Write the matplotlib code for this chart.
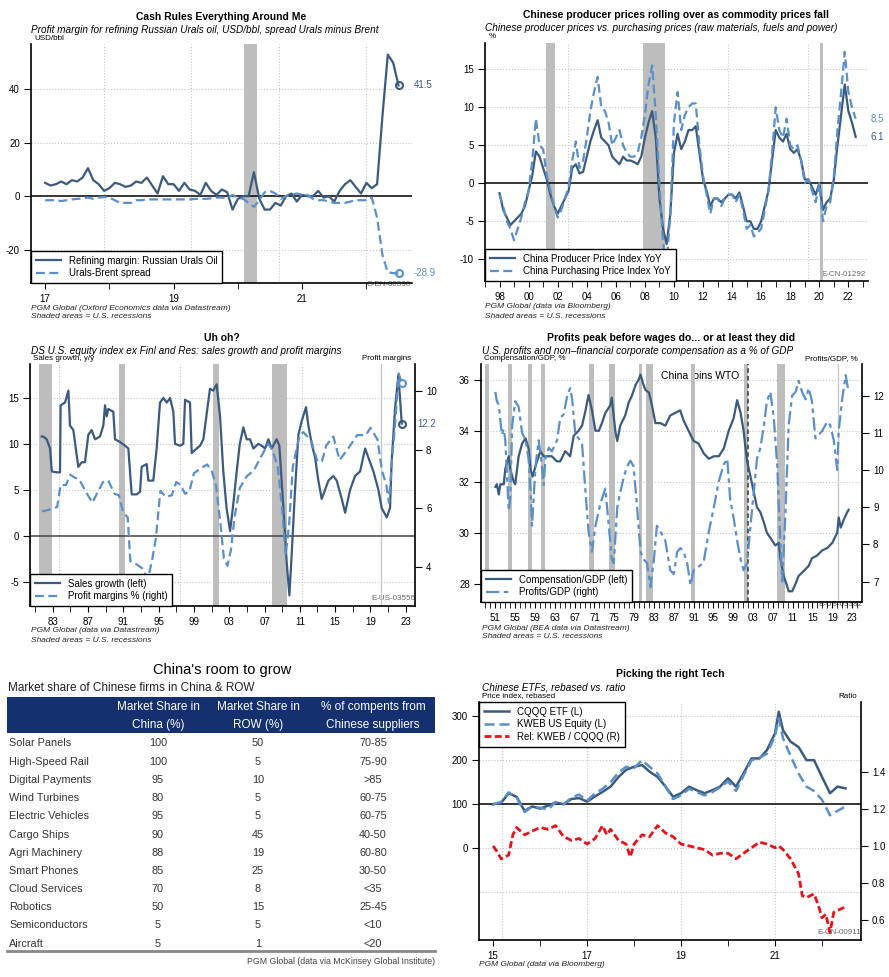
import numpy as np
import matplotlib
matplotlib.use('Agg')
import matplotlib.pyplot as plt
from matplotlib.patches import Rectangle

plt.rcParams['font.family'] = ['Liberation Sans', 'DejaVu Sans']
plt.rcParams['axes.unicode_minus'] = False

W, H = 889, 977
DARK = '#3b5a7d'
LIGHT = '#5b8fc7'
RED = '#e3121b'
SHADE = '#bdbdbd'
GRID = '#c4c4c4'
NAVY = '#14306e'

# ---------------- data ----------------
# US recessions (decimal years)
recessions = [(1948.9, 1949.8), (1953.5, 1954.4), (1957.6, 1958.3), (1960.3, 1961.1),
              (1969.9, 1970.9), (1973.9, 1975.2), (1980.0, 1980.5), (1981.5, 1982.9),
              (1990.5, 1991.2), (2001.2, 2001.9), (2007.9, 2009.5)]
covid = (2020.1, 2020.3)

# panel 1: monthly from Jan 2017
urals_start = 2017.0
urals_margin = [5, 4, 4.5, 5.5, 4.5, 6, 5.5, 7, 10.5, 6,
                4.5, 2, 3, 5, 4.5, 3.5, 4, 5.5, 5, 7,
                4, 1, 7.5, 4.5, 4.5, 2, 5, 2.5, 2, 0.5,
                5, 2, 0.5, 2.5, 1.5, -5, -1, 0, 0, 9,
                -1, -5, -5, -2.5, -3.5, 0, 1, -2, 0.5, 0,
                0, 2, -0.5, 0, -2, 2, 4.5, 6, 3.5, 1,
                5, 3, 4.5, 30, 53, 50, 41.5]
urals_spread = [-1.5, -1.5, -1.5, -1.8, -1.5, -1.2, -1.0, -0.8, -0.5, -1.0,
                -0.5, -0.3, -0.5, -1.5, -2.5, -2.5, -2.5, -1.5, -1.5, -1.2,
                -1.2, -1.2, -1.2, -1.2, -1.2, -1.2, -1.2, -1.2, -1.0, -1.0,
                -1.0, -0.8, -0.5, -0.5, -0.8, 0.5, -0.5, -1.0, -2.5, -4.0,
                -1.5, 1.5, 2.0, 1.0, -1.0, 0.0, 0.5, 1.0, 0.5, 0.5,
                -1.0, -1.5, -1.5, -2.0, -2.5, -2.5, -2.5, -2.0, -1.5, -1.5,
                -1.5, -0.5, -8.0, -22.0, -28.5, -28.8, -28.9]

# panel 2: quarterly from 1998Q1
ppi_start = 1998.0
ppi = [-1.3, -3.5, -4.5, -5.5, -5.0, -4.5, -4.0, -3.0,
       -1.0, 1.0, 4.2, 3.5, 2.0, 0.5, -1.5, -3.0,
       -4.0, -3.0, -2.0, -1.0, 2.0, 2.5, 1.3, 1.5,
       3.5, 5.5, 7.0, 8.3, 6.0, 5.5, 5.0, 3.5,
       3.0, 2.5, 3.5, 3.0, 3.0, 2.8, 2.5, 3.5,
       6.0, 8.0, 9.5, 6.0, -2.0, -6.0, -8.0, -4.0,
       4.0, 6.5, 4.5, 5.5, 7.0, 7.0, 7.5, 4.0,
       0.5, -1.0, -3.0, -2.0, -2.0, -2.5, -2.0, -1.5,
       -1.5, -2.0, -1.2, -3.0, -5.0, -5.0, -6.0, -6.0,
       -5.0, -3.0, -1.0, 3.0, 7.0, 6.0, 5.5, 6.5,
       4.5, 4.0, 4.5, 3.0, 0.5, 0.5, -0.5, -1.5,
       0.0, -3.5, -2.5, -2.0, 0.5, 5.0, 9.0, 13.0,
       9.5, 8.0, 6.1]
purchasing = [-1.5, -3.0, -5.0, -6.0, -7.5, -6.0, -4.5, -2.5,
              -1.0, 3.0, 8.5, 5.0, 4.5, 1.0, -1.0, -3.0,
              -4.5, -3.5, -2.0, -0.5, 3.0, 5.5, 2.0, 3.0,
              6.0, 9.5, 12.0, 14.0, 10.0, 9.5, 8.0, 5.0,
              6.0, 7.0, 5.0, 4.0, 3.5, 3.5, 4.0, 6.0,
              9.0, 13.0, 15.5, 9.0, 0.0, -8.0, -10.5, -4.0,
              8.0, 12.0, 7.0, 9.0, 10.0, 10.5, 10.5, 5.0,
              1.0, -1.5, -4.0, -2.0, -2.0, -3.0, -2.0, -1.5,
              -1.5, -2.5, -1.5, -3.5, -6.0, -5.5, -7.0, -6.5,
              -6.0, -3.5, -1.0, 4.0, 10.0, 7.0, 6.0, 8.5,
              5.0, 4.5, 5.0, 3.0, 0.0, 0.5, -1.0, -2.5,
              0.0, -5.0, -3.0, -2.5, 1.0, 7.0, 12.0, 17.3,
              12.0, 10.0, 8.5]

# panel 3
sales_years = [1981.75, 1981.94, 1982.32, 1982.7, 1982.9, 1983.45, 1983.83, 1983.9, 1984.4, 1984.78,
               1984.96, 1985.34, 1985.9, 1986.29, 1986.66, 1987.04, 1987.42, 1987.8, 1988.36, 1988.74,
               1988.93, 1989.12, 1989.3, 1989.87, 1990.06, 1990.63, 1991.2, 1991.57, 1991.76, 1991.95,
               1992.52, 1992.9, 1993.08, 1993.65, 1993.84, 1994.4, 1994.78, 1995.16, 1995.54, 1995.92,
               1996.3, 1996.67, 1996.86, 1997.43, 1997.8, 1998.0, 1998.56, 1998.75, 1999.32, 1999.7,
               2000.07, 2000.82, 2001.2, 2001.58, 2001.96, 2002.33, 2002.7, 2003.1, 2003.47, 2003.85,
               2004.2, 2004.6, 2004.98, 2005.36, 2005.74, 2006.3, 2006.68, 2007.06, 2007.44, 2007.82,
               2008.38, 2008.68, 2009.14, 2009.52, 2009.82, 2010.08, 2010.46, 2010.84, 2011.22, 2011.7,
               2011.97, 2012.35, 2012.73, 2013.1, 2013.48, 2013.86, 2014.24, 2014.8, 2015.18, 2015.75,
               2016.13, 2016.7, 2017.26, 2017.83, 2018.4, 2018.77, 2019.34, 2019.9, 2020.28, 2020.85,
               2021.22, 2021.4, 2021.8, 2022.17, 2022.55]
sales_growth = [10.8, 10.8, 10.5, 9.5, 7.0, 6.9, 6.9, 14.2, 14.5, 15.8,
                12.0, 11.5, 7.5, 8.0, 8.0, 11.0, 11.5, 10.5, 10.8, 12.0,
                14.2, 13.0, 13.8, 13.5, 10.5, 10.2, 9.8, 9.5, 7.0, 4.5,
                4.5, 4.8, 7.5, 7.8, 6.0, 6.0, 9.5, 14.5, 15.0, 14.5,
                15.0, 13.5, 10.0, 9.8, 10.0, 14.8, 14.5, 9.0, 9.5, 9.8,
                10.5, 16.0, 15.8, 16.5, 13.0, 7.0, 3.0, 0.5, 3.5, 7.0,
                10.0, 11.8, 10.5, 10.5, 9.5, 10.0, 9.8, 9.5, 10.5, 9.5,
                10.5, 9.8, 3.0, -3.0, -6.5, -2.0, 5.0, 11.0, 12.5, 14.0,
                12.0, 10.0, 8.5, 6.0, 4.0, 5.0, 6.0, 6.5, 6.0, 4.0,
                2.5, 5.0, 6.5, 7.0, 9.5, 8.5, 7.0, 5.0, 3.0, 2.0,
                3.0, 8.0, 14.0, 17.5, 12.2]
margin_years = [1981.8, 1982.5, 1983.5, 1983.9, 1984.5, 1985.0, 1985.5, 1986.0, 1986.7, 1987.5,
                1988.0, 1988.7, 1989.3, 1990.0, 1990.5, 1991.0, 1991.5, 1991.8, 1992.5, 1993.2,
                1993.8, 1994.3, 1994.7, 1995.2, 1995.8, 1996.5, 1997.0, 1997.5, 1998.0, 1998.5,
                1999.0, 1999.7, 2000.5, 2001.0, 2001.5, 2002.0, 2002.4, 2002.8, 2003.2, 2003.6,
                2004.2, 2005.0, 2005.8, 2006.5, 2007.4, 2007.9, 2008.5, 2009.0, 2009.4, 2009.8,
                2010.2, 2010.6, 2011.0, 2011.4, 2012.3, 2013.0, 2013.5, 2014.0, 2014.8, 2015.5,
                2016.5, 2017.5, 2018.5, 2019.0, 2019.8, 2020.3, 2020.8, 2021.1, 2021.4, 2021.8,
                2022.2, 2022.55]
profit_margin = [5.9, 5.95, 6.05, 6.8, 6.8, 7.15, 7.05, 7.0, 6.6, 6.2,
                 6.5, 6.9, 6.95, 6.5, 6.45, 5.85, 5.7, 4.2, 4.1, 3.95,
                 3.6, 4.3, 5.0, 6.6, 6.4, 6.45, 6.9, 6.8, 6.5, 6.6,
                 7.2, 7.35, 7.5, 7.3, 6.8, 5.5, 4.3, 4.05, 4.6, 5.7,
                 6.7, 7.1, 7.3, 7.7, 8.2, 8.0, 7.4, 6.0, 4.4, 5.5,
                 7.4, 8.0, 8.5, 8.6, 8.3, 7.6, 7.6, 8.15, 8.45, 7.65,
                 8.05, 8.5, 8.5, 8.75, 8.35, 7.3, 6.8, 6.2, 7.5, 8.9,
                 10.6, 10.28]

# panel 4
comp_years = [1951.0, 1951.3, 1951.7, 1952.0, 1952.7, 1953.0, 1953.7, 1954.0, 1954.7, 1955.0,
              1955.7, 1956.4, 1957.1, 1957.7, 1958.1, 1958.5, 1959.4, 1960.1, 1960.75, 1961.4,
              1962.4, 1963.4, 1964.1, 1965.1, 1966.1, 1966.8, 1967.8, 1968.5, 1969.2, 1969.8,
              1970.5, 1971.2, 1971.9, 1972.5, 1973.2, 1974.2, 1974.5, 1975.2, 1975.6, 1976.2,
              1977.2, 1977.9, 1978.6, 1979.3, 1979.9, 1980.3, 1980.9, 1981.3, 1982.0, 1982.6,
              1983.3, 1984.3, 1985.3, 1986.3, 1987.3, 1988.3, 1989.0, 1990.0, 1991.0, 1992.0,
              1993.1, 1994.1, 1995.1, 1996.1, 1997.1, 1998.1, 1999.1, 1999.8, 2000.5, 2001.1,
              2001.8, 2002.5, 2003.15, 2003.8, 2004.5, 2005.2, 2005.8, 2006.5, 2007.5, 2008.2,
              2008.5, 2009.2, 2009.9, 2010.2, 2010.9, 2011.6, 2012.2, 2013.25, 2014.25, 2014.9,
              2015.9, 2016.95, 2018.0, 2019.0, 2020.0, 2020.3, 2020.7, 2021.3, 2022.0, 2022.3]
comp_gdp = [31.8, 31.9, 31.5, 31.9, 31.9, 32.5, 33.0, 32.5, 32.0, 31.9,
            33.0, 33.5, 33.7, 33.3, 32.5, 32.2, 32.8, 33.2, 33.0, 33.0,
            33.0, 32.8, 32.8, 33.2, 33.0, 33.8, 34.0, 34.2, 34.8, 35.4,
            34.8, 34.0, 34.0, 34.3, 34.7, 35.0, 35.3, 34.0, 33.6, 34.2,
            34.6, 35.1, 35.4, 35.8, 36.0, 36.2, 35.8, 35.6, 35.5, 35.0,
            34.3, 34.3, 34.2, 34.6, 34.7, 34.8, 34.4, 34.0, 33.6, 33.5,
            33.1, 32.9, 33.0, 33.0, 33.3, 34.0, 34.5, 35.2, 34.7, 34.0,
            32.8, 32.2, 31.6, 31.0, 30.8, 30.4, 30.0, 29.8, 29.5, 29.6,
            29.0, 28.3, 27.9, 27.7, 27.7, 28.0, 28.3, 28.5, 28.7, 29.0,
            29.1, 29.3, 29.4, 29.6, 30.0, 30.6, 30.2, 30.5, 30.8, 30.9]
prof_years = [1951.0, 1951.3, 1951.7, 1952.3, 1952.7, 1953.0, 1953.7, 1954.0, 1954.4, 1955.0,
              1955.7, 1956.4, 1957.1, 1957.7, 1958.1, 1958.4, 1959.1, 1959.75, 1960.4, 1960.75,
              1961.1, 1961.8, 1962.4, 1963.45, 1964.1, 1964.8, 1965.5, 1966.1, 1966.5, 1967.15,
              1967.8, 1968.5, 1969.2, 1969.8, 1970.5, 1971.2, 1972.2, 1973.2, 1973.9, 1974.5,
              1974.9, 1975.6, 1976.2, 1976.9, 1977.6, 1978.25, 1978.9, 1979.6, 1980.3, 1980.9,
              1981.6, 1982.3, 1983.0, 1983.6, 1984.3, 1985.3, 1986.3, 1987.0, 1987.7, 1988.35,
              1989.0, 1989.7, 1990.4, 1991.0, 1992.0, 1993.0, 1994.1, 1995.1, 1996.1, 1997.1,
              1997.8, 1998.4, 1999.1, 1999.8, 2000.5, 2001.1, 2001.8, 2002.5, 2003.15, 2003.8,
              2004.5, 2005.2, 2005.8, 2006.5, 2007.2, 2007.9, 2008.5, 2008.9, 2009.5, 2010.2,
              2010.9, 2011.6, 2012.2, 2012.9, 2013.6, 2014.25, 2014.9, 2015.6, 2016.3, 2016.95,
              2018.0, 2018.6, 2019.3, 2020.0, 2020.3, 2021.0, 2021.7, 2022.3]
prof_gdp = [12.1, 11.85, 11.75, 10.95, 11.1, 10.8, 8.9, 9.25, 11.2, 11.85,
            11.7, 11.0, 10.8, 10.3, 9.4, 8.5, 10.1, 10.8, 10.1, 9.6,
            10.3, 10.6, 10.5, 10.8, 11.4, 11.5, 12.0, 12.2, 11.9, 10.95,
            10.85, 10.7, 9.4, 8.35, 7.8, 8.5, 9.1, 9.5, 8.5, 7.6,
            7.5, 9.0, 9.4, 9.8, 10.1, 10.25, 10.1, 9.0, 7.8, 7.6,
            7.5, 6.85, 7.6, 8.5, 8.35, 8.1, 7.3, 7.2, 7.8, 7.9,
            7.8, 7.5, 6.9, 7.3, 7.4, 7.5, 8.35, 9.0, 9.7, 10.15,
            10.3, 9.2, 8.7, 8.1, 7.6, 7.3, 7.5, 8.5, 9.4, 10.3,
            10.6, 11.2, 11.85, 12.1, 11.4, 10.1, 8.1, 7.0, 8.7, 11.2,
            12.0, 12.1, 12.4, 12.1, 11.9, 12.2, 11.85, 10.85, 10.95, 11.05,
            11.3, 11.2, 10.8, 10.0, 11.05, 11.9, 12.55, 12.1]
wto_year = 2001.9

# panel 5: table
table_rows = ['Solar Panels', 'High-Speed Rail', 'Digital Payments', 'Wind Turbines',
              'Electric Vehicles', 'Cargo Ships', 'Agri Machinery', 'Smart Phones',
              'Cloud Services', 'Robotics', 'Semiconductors', 'Aircraft']
share_china = [100, 100, 95, 80, 95, 90, 88, 85, 70, 50, 5, 5]
share_row = [50, 5, 10, 5, 5, 45, 19, 25, 8, 15, 5, 1]
components = ['70-85', '75-90', '>85', '60-75', '60-75', '40-50', '60-80', '30-50',
              '<35', '25-45', '<10', '<20']
table_header = ['Market Share in\nChina (%)', 'Market Share in\nROW (%)',
                '% of compents from\nChinese suppliers']

# panel 6
etf_years = [2015.0, 2015.17, 2015.33, 2015.5, 2015.67, 2015.83, 2016.0, 2016.17, 2016.33, 2016.5,
             2016.67, 2016.83, 2017.0, 2017.17, 2017.33, 2017.5, 2017.67, 2017.83, 2018.0, 2018.17,
             2018.33, 2018.5, 2018.67, 2018.83, 2019.0, 2019.17, 2019.33, 2019.5, 2019.67, 2019.83,
             2020.0, 2020.17, 2020.33, 2020.5, 2020.67, 2020.83, 2021.0, 2021.08, 2021.17, 2021.33,
             2021.5, 2021.67, 2021.83, 2022.0, 2022.17, 2022.33, 2022.5]
cqqq = [100, 103, 125, 117, 85, 95, 90, 97, 104, 100,
        112, 114, 106, 118, 128, 140, 162, 178, 185, 189,
        174, 162, 140, 117, 125, 140, 132, 125, 132, 140,
        159, 140, 170, 204, 204, 223, 261, 310, 268, 242,
        230, 200, 200, 162, 125, 140, 136]
kweb = [100, 105, 127, 115, 82, 95, 92, 88, 105, 100,
        115, 122, 108, 125, 135, 150, 172, 185, 182, 200,
        185, 170, 140, 112, 120, 135, 128, 120, 128, 138,
        152, 130, 165, 200, 205, 215, 255, 295, 250, 210,
        170, 140, 130, 110, 75, 85, 95]
rel_years = [2015.0, 2015.08, 2015.17, 2015.25, 2015.33, 2015.42, 2015.5, 2015.67, 2015.83,
             2016.0, 2016.17, 2016.33, 2016.5, 2016.67, 2016.83,
             2017.0, 2017.17, 2017.33, 2017.42, 2017.5, 2017.67, 2017.83, 2017.92,
             2018.0, 2018.17, 2018.33, 2018.5, 2018.67, 2018.83,
             2019.0, 2019.17, 2019.33, 2019.5, 2019.67, 2019.83,
             2020.0, 2020.17, 2020.33, 2020.5, 2020.67, 2020.83,
             2021.0, 2021.08, 2021.17, 2021.33, 2021.5, 2021.58, 2021.67, 2021.83, 2021.92,
             2022.0, 2022.08, 2022.17, 2022.25, 2022.33, 2022.5]
rel_ratio = [1.00, 0.97, 0.93, 0.94, 0.95, 1.06, 1.10, 1.06, 1.08,
             1.10, 1.09, 1.11, 1.05, 1.03, 1.04,
             1.01, 1.04, 1.11, 1.06, 1.09, 1.03, 1.01, 0.94,
             1.01, 1.06, 1.05, 1.11, 1.07, 1.05,
             1.01, 1.00, 0.99, 0.98, 0.95, 0.96,
             0.96, 0.93, 0.96, 0.99, 1.02, 1.01,
             0.99, 1.00, 0.98, 0.93, 0.85, 0.73, 0.72, 0.74, 0.68,
             0.61, 0.63, 0.53, 0.64, 0.65, 0.67]

# ---------------- helpers ----------------
fig = plt.figure(figsize=(W / 100, H / 100), dpi=100)
fig.patch.set_facecolor('white')

# overlay in pixel units for all free text / table
ov = fig.add_axes([0, 0, 1, 1])
ov.set_xlim(0, W)
ov.set_ylim(H, 0)
ov.axis('off')


def px_axes(l, t, r, b):
    return fig.add_axes([l / W, 1 - b / H, (r - l) / W, (b - t) / H])


def style(ax):
    ax.spines['top'].set_visible(False)
    ax.spines['right'].set_visible(False)
    for s in ['left', 'bottom']:
        ax.spines[s].set_linewidth(1.2)
    ax.patch.set_alpha(0)
    ax.tick_params(labelsize=7, direction='out', width=0.8)
    ax.tick_params(axis='y', length=5, pad=3)
    ax.tick_params(axis='x', which='both', length=4, pad=4)


def twin(ax):
    axb = ax.twinx()
    for s in ['top', 'left', 'bottom']:
        axb.spines[s].set_visible(False)
    axb.spines['right'].set_linewidth(1.2)
    axb.tick_params(labelsize=7, direction='out', width=0.8, length=5, pad=3)
    return axb


def year_ticks(ax, major, minor):
    ax.set_xticks(major)
    ax.set_xticklabels([f"{y % 100:02d}" for y in major])
    ax.set_xticks(minor, minor=True)


def shade(ax, spans):
    for a, b in spans:
        ax.axvspan(a, b, color=SHADE, lw=0, zorder=0)


def grid(ax, xs=(), ys=()):
    for gx in xs:
        ax.axvline(gx, color=GRID, lw=0.8, ls=':', zorder=0)
    for gy in ys:
        ax.axhline(gy, color=GRID, lw=0.8, ls=':', zorder=0)


def titles(cx, top, left, title, subtitle):
    ov.text(cx, top, title, ha='center', va='center', fontsize=7.5, fontweight='bold')
    ov.text(left, top + 13, subtitle, ha='left', va='center', fontsize=7.2, style='italic')


def small(x, y, s, ha='left', **kw):
    ov.text(x, y, s, ha=ha, va='center', fontsize=5.8, **kw)


def legend(ax, handles, labels, loc, anchor):
    leg = ax.legend(handles, labels, loc=loc, bbox_to_anchor=anchor, borderaxespad=0,
                    fancybox=False, framealpha=1, edgecolor='black', fontsize=7,
                    handlelength=2.6, borderpad=0.5, labelspacing=0.25)
    leg.get_frame().set_linewidth(1.0)
    return leg


def end_label(ax, x, y, text, color, marker=True):
    if marker:
        ax.plot([x], [y], 'o', ms=5, mfc='none', mec=color, mew=1.5, zorder=5, clip_on=False)
    ax.annotate(text, (x, y), xytext=(11, 0), textcoords='offset points',
                ha='left', va='center', fontsize=7, color=color, annotation_clip=False)


def source(x, y, lines):
    for i, s in enumerate(lines):
        ov.text(x, y + 9 * i, s, ha='left', va='center', fontsize=6, style='italic', color='#222222')


dash = (4, 2)

# ---------------- panel 1 ----------------
ax1 = px_axes(31, 44, 412, 283)
style(ax1)
x = urals_start + np.arange(len(urals_margin)) / 12
xs = urals_start + np.arange(len(urals_spread)) / 12
shade(ax1, [covid])
grid(ax1, [2017.92, 2019.27, 2020.64, 2022.0], [-20, 20, 40])
ax1.axhline(0, color='black', lw=1.1, zorder=1)
l1, = ax1.plot(x, urals_margin, color=DARK, lw=1.6)
l2, = ax1.plot(xs, urals_spread, color=LIGHT, lw=1.6, dashes=dash)
ax1.set_xlim(2016.78, 2022.71)
ax1.set_ylim(-32.5, 57)
ax1.set_yticks([-20, 0, 20, 40])
year_ticks(ax1, [2017, 2019, 2021], [2018, 2020, 2022])
end_label(ax1, x[-1], urals_margin[-1], '41.5', DARK)
end_label(ax1, xs[-1], urals_spread[-1], '-28.9', LIGHT)
legend(ax1, [l1, l2], ['Refining margin: Russian Urals Oil', 'Urals-Brent spread'],
       'lower left', (0, 0))
titles(221, 17, 31, 'Cash Rules Everything Around Me',
       'Profit margin for refining Russian Urals oil, USD/bbl, spread Urals minus Brent')
small(34, 39, 'USD/bbl')
small(411, 284, 'C-EN-00330', ha='right', color='#666666')
source(31, 308, ['PGM Global (Oxford Economics data via Datastream)',
                 'Shaded areas = U.S. recessions'])

# ---------------- panel 2 ----------------
ax2 = px_axes(485, 43, 868, 281)
style(ax2)
xq = ppi_start + np.arange(len(ppi)) * 0.25
xp = ppi_start + np.arange(len(purchasing)) * 0.25
shade(ax2, [(2001.2, 2001.85), (2007.9, 2009.4), (2020.08, 2020.25)])
grid(ax2, [2002.7, 2013.7, 2019.2], [-10, -5, 5, 10, 15])
ax2.axhline(0, color='black', lw=1.1, zorder=1)
m1, = ax2.plot(xq, ppi, color=DARK, lw=1.6)
m2, = ax2.plot(xp, purchasing, color=LIGHT, lw=1.6, dashes=dash)
ax2.set_xlim(1997.04, 2023.35)
ax2.set_ylim(-12.86, 18.46)
ax2.set_yticks([-10, -5, 0, 5, 10, 15])
year_ticks(ax2, list(range(1998, 2023, 2)), list(range(1997, 2024)))
end_label(ax2, xp[-1], purchasing[-1], '8.5', LIGHT, marker=False)
end_label(ax2, xq[-1], ppi[-1], '6.1', DARK, marker=False)
legend(ax2, [m1, m2], ['China Producer Price Index YoY', 'China Purchasing Price Index YoY'],
       'lower left', (0, 0))
titles(676, 15, 485, 'Chinese producer prices rolling over as commodity prices fall',
       'Chinese producer prices vs. purchasing prices (raw materials, fuels and power)')
small(489, 36, '%')
small(866, 275, 'E-CN-01292', ha='right', color='#666666')
source(485, 307, ['PGM Global (data via Bloomberg)', 'Shaded areas = U.S. recessions'])

# ---------------- panel 3 ----------------
ax3 = px_axes(30, 364, 415, 606)
style(ax3)
ax3b = twin(ax3)
shade(ax3, recessions)
ax3.axvline(2020.2, color='#c8c8c8', lw=1.0, zorder=0)
grid(ax3, [1983.7, 1997.4, 2011.2], [-5, 5, 10, 15])
ax3.axhline(0, color='#444444', lw=1.1, zorder=1)
s1, = ax3.plot(sales_years, sales_growth, color=DARK, lw=1.6, zorder=3)
s2, = ax3b.plot(margin_years, profit_margin, color=LIGHT, lw=1.6, dashes=dash)
ax3.set_xlim(1980.43, 2024.05)
ax3.set_ylim(-7.66, 18.7)
ax3b.set_ylim(2.68, 10.92)
ax3.set_yticks([-5, 0, 5, 10, 15])
ax3b.set_yticks([4, 6, 8, 10])
year_ticks(ax3, list(range(1983, 2024, 4)), list(range(1981, 2024, 2)))
end_label(ax3, sales_years[-1], sales_growth[-1], '12.2', DARK)
ax3b.plot([margin_years[-1]], [profit_margin[-1]], 'o', ms=5, mfc='none', mec=LIGHT, mew=1.5,
          clip_on=False)
legend(ax3b, [s1, s2], ['Sales growth (left)', 'Profit margins % (right)'], 'lower left', (0, 0))
titles(222, 338, 31, 'Uh oh?', 'DS U.S. equity index ex Finl and Res: sales growth and profit margins')
small(33, 359, 'Sales growth, y/y')
small(411, 359, 'Profit margins', ha='right')
small(415, 599, 'E-US-03556', ha='right', color='#666666')
source(31, 631, ['PGM Global (data via Datastream)', 'Shaded areas = U.S. recessions'])

# ---------------- panel 4 ----------------
ax4 = px_axes(481, 364, 862, 602)
style(ax4)
ax4b = twin(ax4)
shade(ax4, recessions)
ax4.axvline(2020.2, color='#c8c8c8', lw=1.0, zorder=0)
grid(ax4, [], [30, 32, 34, 36])
ax4.axvline(wto_year, color='#333333', lw=1.1, ls=(0, (3, 2)), zorder=1)
c1, = ax4.plot(comp_years, comp_gdp, color=DARK, lw=1.6, zorder=3)
c2, = ax4b.plot(prof_years, prof_gdp, color=LIGHT, lw=1.6, dashes=(6, 2, 2, 2))
ax4.set_xlim(1948.1, 2025.0)
ax4.set_ylim(27.28, 36.62)
ax4b.set_ylim(6.45, 12.85)
ax4.set_yticks([28, 30, 32, 34, 36])
ax4b.set_yticks([7, 8, 9, 10, 11, 12])
year_ticks(ax4, list(range(1951, 2024, 4)), list(range(1949, 2025)))
legend(ax4b, [c1, c2], ['Compensation/GDP (left)', 'Profits/GDP (right)'], 'lower left', (0, 0))
ov.text(700, 376, 'China joins WTO', ha='center', va='center', fontsize=7.5)
titles(671, 338, 482, 'Profits peak before wages do... or at least they did',
       'U.S. profits and non\u2013financial corporate compensation as a % of GDP')
small(484, 359, 'Compensation/GDP, %')
small(858, 359, 'Profits/GDP, %', ha='right')
small(862, 605, 'E-US-03382', ha='right', color='#666666')
source(482, 628, ['PGM Global (BEA data via Datastream)', 'Shaded areas = U.S. recessions'])

# ---------------- panel 5: table ----------------
ov.text(222, 670, "China's room to grow", ha='center', va='center', fontsize=10.5)
ov.text(8, 688, 'Market share of Chinese firms in China & ROW', ha='left', va='center',
        fontsize=8.5, color='#222222')
ov.add_patch(Rectangle((7, 697), 428, 36, color=NAVY, lw=0))
col_x = [158, 258, 373]
for cx, head in zip(col_x, table_header):
    for j, line in enumerate(head.split('\n')):
        ov.text(cx, 707 + 18 * j, line, ha='center', va='center', fontsize=8.5, color='white')
for i, name in enumerate(table_rows):
    ry = 743.5 + i * 18.2
    cells = [str(share_china[i]), str(share_row[i]), components[i]]
    ov.text(9, ry, name, ha='left', va='center', fontsize=7.8, color='#333333')
    for cx, val in zip(col_x, cells):
        ov.text(cx, ry, val, ha='center', va='center', fontsize=7.8, color='#333333')
ov.plot([7, 435], [951, 951], color='#888888', lw=2)
ov.text(435, 962, 'PGM Global (data via McKinsey Global Institute)', ha='right', va='center',
        fontsize=6.3, color='#444444')

# ---------------- panel 6 ----------------
ax6 = px_axes(479, 702, 861, 940)
style(ax6)
ax6b = twin(ax6)
grid(ax6, [2015.2, 2017.0, 2019.0, 2021.0], [-100, 0, 200, 300])
ax6.axhline(100, color='black', lw=1.1, zorder=1)
e1, = ax6.plot(etf_years, cqqq, color=DARK, lw=1.8, zorder=3)
e2, = ax6.plot(etf_years, kweb, color=LIGHT, lw=1.8, dashes=dash, zorder=3)
e3, = ax6b.plot(rel_years, rel_ratio, color=RED, lw=2.0, dashes=(2.5, 1.2))
ax6.set_xlim(2014.7, 2022.83)
ax6.set_ylim(-208, 332)
ax6b.set_ylim(0.49, 1.78)
ax6.set_yticks([0, 100, 200, 300])
ax6b.set_yticks([0.6, 0.8, 1.0, 1.2, 1.4])
ax6b.set_yticklabels(['0.6', '0.8', '1.0', '1.2', '1.4'])
year_ticks(ax6, [2015, 2017, 2019, 2021], [2016, 2018, 2020, 2022])
legend(ax6b, [e1, e2, e3], ['CQQQ ETF (L)', 'KWEB US Equity (L)', 'Rel: KWEB / CQQQ (R)'],
       'upper left', (0, 1))
titles(670, 674, 482, 'Picking the right Tech', 'Chinese ETFs, rebased vs. ratio')
small(482, 696, 'Price index, rebased')
small(857, 696, 'Ratio', ha='right')
small(861, 933, 'E-CN-00911', ha='right', color='#666666')
source(479, 964, ['PGM Global (data via Bloomberg)'])

fig.savefig('out.png', dpi=100)
